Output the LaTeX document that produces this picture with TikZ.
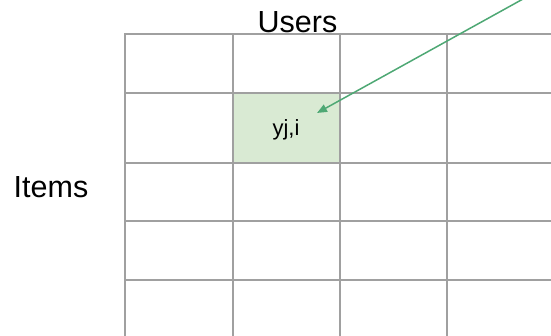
\documentclass[tikz,border=0pt]{standalone}
\usepackage{fontspec}
\setmainfont{Liberation Sans}
\usetikzlibrary{arrows.meta}

\definecolor{gridgray}{RGB}{160,160,160}
\definecolor{cellgreen}{RGB}{217,234,211}
\definecolor{arrowgreen}{RGB}{78,168,116}

\begin{document}
\begin{tikzpicture}[x=1pt,y=-1pt]

      \useasboundingbox (0,0) rectangle (551,336);
      \clip (0,0) rectangle (551,336);

      % the marked entry
      \fill[cellgreen] (232.5,93.3) rectangle (340,163);

      \begin{scope}[gridgray, line width=2pt]
        \foreach \x in {125,232.5,340,447}
          \draw (\x,34.5) -- (\x,340);
        \foreach \y in {34.5,93.3,163,221.5,280}
          \draw (124,\y) -- (556,\y);
      \end{scope}

      \begin{scope}[every node/.style={anchor=base,inner sep=0pt,font=\fontsize{30.5}{36}\selectfont}]
        \node (users) at (297.5,32.3) {Users};
        \node (items) at (51,197.7)   {Items};
      \end{scope}

      \node[anchor=base,inner sep=0pt,font=\fontsize{22}{26}\selectfont] (yji) at (286,136) {yj,i};

      \coordinate (from) at (523,-1);
      \coordinate (to)   at (317,113);
      \draw[arrowgreen, line width=1.5pt, -{Triangle[length=10pt,width=8pt]}] (from) -- (to);

    \end{tikzpicture}
\end{document}
